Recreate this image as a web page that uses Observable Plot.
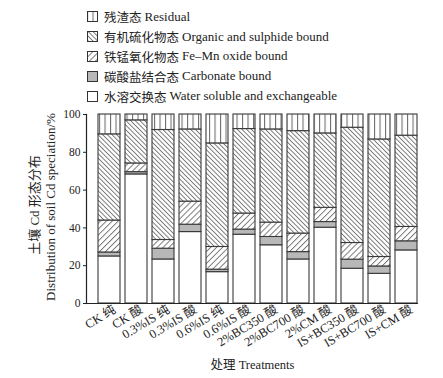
<!DOCTYPE html>
<html><head><meta charset="utf-8">
<script src="https://cdn.jsdelivr.net/npm/d3@7"></script>
<script src="https://cdn.jsdelivr.net/npm/@observablehq/plot@0.6"></script>
<style>
body{margin:0;background:#fff;}
#wrap{position:relative;width:443px;height:378px;font-family:"Liberation Serif","Noto Sans CJK SC",serif;}
#legend{position:absolute;left:87px;top:7px;font-size:13px;color:#222;}
.row{display:flex;align-items:center;height:19.8px;white-space:nowrap;}
.row svg{margin-right:6px;flex:none;}
.zh{font-size:12.5px;margin-right:3px;}
</style></head><body>
<svg width="0" height="0" style="position:absolute">
<defs>
<pattern id="pRes" patternUnits="userSpaceOnUse" width="5.5" height="10"><rect width="5.5" height="10" fill="#fff"/><line x1="0.6" y1="0" x2="0.6" y2="10" stroke="#333" stroke-width="0.8"/></pattern>
<pattern id="pOrg" patternUnits="userSpaceOnUse" width="3.3" height="10" patternTransform="rotate(-45)"><rect width="3.3" height="10" fill="#fff"/><line x1="0.5" y1="0" x2="0.5" y2="10" stroke="#333" stroke-width="0.7"/></pattern>
<pattern id="pFeMn" patternUnits="userSpaceOnUse" width="4.2" height="10" patternTransform="rotate(45)"><rect width="4.2" height="10" fill="#fff"/><line x1="0.5" y1="0" x2="0.5" y2="10" stroke="#333" stroke-width="0.7"/></pattern>
</defs>
</svg>
<div id="wrap"><div id="legend"></div></div>
<script>
const categories = ["CK 纯","CK 酸","0.3%IS 纯","0.3%IS 酸","0.6%IS 纯","0.6%IS 酸","2%BC350 酸","2%BC700 酸","2%CM 酸","IS+BC350 酸","IS+BC700 酸","IS+CM 酸"];
// stacked bottom to top
const seriesNames = ["水溶交换态 Water soluble and exchangeable","碳酸盐结合态 Carbonate bound","铁锰氧化物态 Fe–Mn oxide bound","有机硫化物态 Organic and sulphide bound","残渣态 Residual"];
const water     = [24.9, 68.3, 23.3, 37.8, 16.6, 36.4, 30.8, 23.3, 40.1, 18.4, 15.7, 28.1];
const carbonate = [2.1, 1.2, 5.7, 3.9, 1.3, 2.7, 4.4, 3.9, 3.0, 4.8, 3.9, 4.8];
const feMn      = [16.9, 4.6, 4.6, 12.2, 12.0, 8.5, 7.6, 9.8, 7.5, 8.8, 5.0, 7.6];
const organic   = [45.6, 22.8, 58.2, 38.2, 54.8, 44.7, 49.3, 54.2, 39.4, 61.0, 62.2, 48.3];
const residual  = [10.5, 3.1, 8.2, 7.9, 15.3, 7.7, 7.9, 8.8, 10.0, 7.0, 13.2, 11.2];
const yTicks = [0, 20, 40, 60, 80, 100];
const yTitleZh = "土壤 Cd 形态分布";
const yTitleEn = "Distribution of soil Cd speciation/%";
const xTitle = "处理 Treatments";

const fills = ["#ffffff", "#b8b8b8", "url(#pFeMn)", "url(#pOrg)", "url(#pRes)"];
const values = [water, carbonate, feMn, organic, residual];
const data = [];
seriesNames.forEach((s, i) => categories.forEach((c, j) => data.push({treatment: c, form: s, value: values[i][j]})));

const font = '"Liberation Serif","Noto Sans CJK SC",serif';
const chart = Plot.plot({
  width: 443, height: 378,
  marginTop: 114, marginBottom: 75, marginLeft: 86, marginRight: 25,
  style: {fontFamily: font, fontSize: "11px", color: "#222", background: "transparent", overflow: "visible"},
  x: {domain: categories, insetLeft: 10, paddingInner: 0.19, paddingOuter: 0, label: null},
  y: {domain: [0, 100], label: null},
  color: {type: "ordinal", domain: seriesNames, range: fills},
  marks: [
    Plot.barY(data, {x: "treatment", y: "value", fill: "form", stroke: "#3a3a3a", strokeWidth: 1.1}),
    Plot.frame({anchor: "left", stroke: "#222", strokeWidth: 1.2}),
    Plot.ruleY([0], {stroke: "#222", strokeWidth: 1.2}),
    Plot.axisY({ticks: yTicks, tickSize: 3, tickPadding: 3, fontSize: 11.5, label: null}),
    Plot.axisX({tickSize: 0, tickRotate: -31, tickPadding: 5, fontSize: 12.5, label: null, dx: 5}),
    Plot.text([yTitleZh], {frameAnchor: "left", textAnchor: "middle", rotate: -90, dx: -52, dy: -4, fontSize: 13}),
    Plot.text([yTitleEn], {frameAnchor: "left", textAnchor: "middle", rotate: -90, dx: -36, dy: -2, fontSize: 13}),
    Plot.text([xTitle], {frameAnchor: "bottom", dy: 65, fontSize: 12.5})
  ]
});
const wrap = document.getElementById("wrap");
wrap.insertBefore(chart, wrap.firstChild);

// legend, top row first
const legend = d3.select("#legend");
seriesNames.map((s, i) => [s, fills[i]]).reverse().forEach(([s, f]) => {
  const row = legend.append("div").attr("class", "row");
  const sv = row.append("svg").attr("width", 11).attr("height", 11);
  sv.append("rect").attr("x", 0.5).attr("y", 0.5).attr("width", 10).attr("height", 10)
    .attr("fill", f).attr("stroke", "#333").attr("stroke-width", 1);
  const k = s.indexOf(" ");
  row.append("span").attr("class", "zh").text(s.slice(0, k));
  row.append("span").text(s.slice(k + 1));
});
</script>
</body></html>
